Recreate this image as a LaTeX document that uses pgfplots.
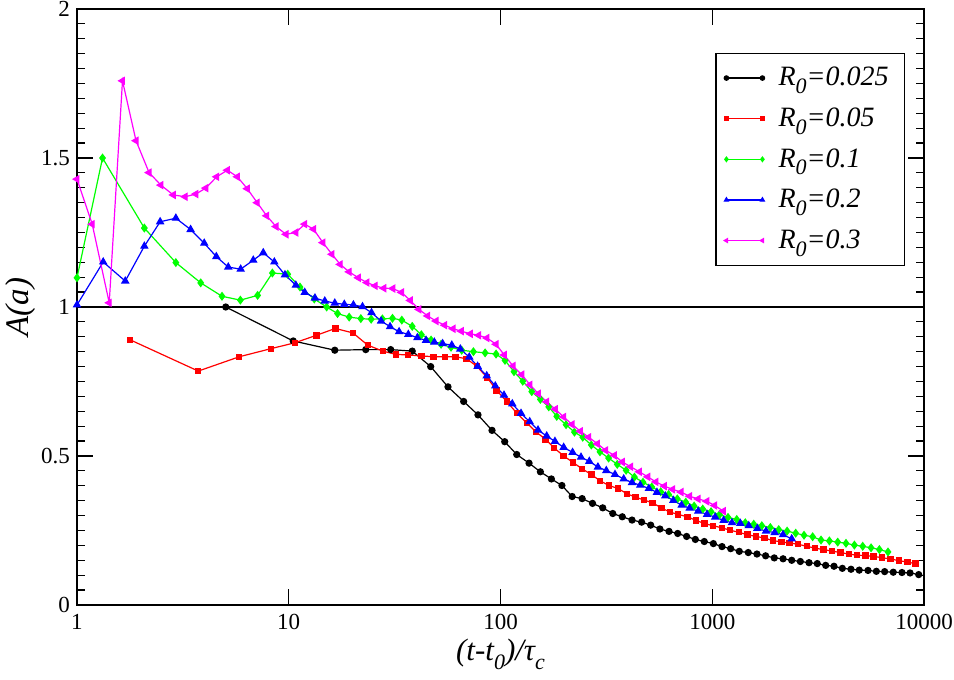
\documentclass[border=0pt]{standalone}
\usepackage{pgfplots}
\pgfplotsset{compat=1.18}
\usepackage{fontspec}
\setmainfont{Liberation Serif}
\definecolor{gred}{RGB}{255,0,0}
\definecolor{ggreen}{RGB}{0,255,0}
\definecolor{gblue}{RGB}{0,0,255}
\definecolor{gmag}{RGB}{255,0,255}
\newcommand\lsub[1]{\raisebox{-0.6ex}{\fontsize{11}{11}\selectfont #1}}
\begin{document}
\begin{tikzpicture}
\begin{axis}[
  name=ax,
  scale only axis,
  width=423.5pt, height=298pt,
  xmode=log,
  xmin=1, xmax=10000, ymin=0, ymax=2,
  log basis x=10,
  xtick={1,10,100,1000,10000},
  xticklabels={1,10,100,1000,10000},
  ytick={0,0.5,1,1.5,2},
  yticklabels={0,0.5,1,1.5,2},
  minor y tick num=9,
  tick align=inside,
  major tick length=8pt,
  minor tick length=4pt,
  every tick/.style={black, line width=0.6pt},
  axis line style={line width=0.8pt},
  /pgf/number format/assume math mode=true,
  tick label style={font=\fontsize{11.5}{13}\selectfont},
  xticklabel style={yshift=-1pt},
  xlabel={\textit{(t-t\lsub{0})/τ\lsub{c}}},
  ylabel={\textit{A(a)}},
  xlabel style={font=\fontsize{15.5}{17}\selectfont, yshift=2pt},
  ylabel style={font=\fontsize{16.5}{18}\selectfont, yshift=-4pt},
  legend cell align=left,
  legend style={at={(0.978,0.927)}, anchor=north east, draw=black, line width=0.75pt,
    font=\fontsize{14}{16}\selectfont, row sep=5.5pt, inner xsep=4pt, inner ysep=5pt,
    nodes={inner xsep=4pt}},
  legend image code/.code={\draw[mark repeat=2,mark phase=1,#1,mark size=1.1pt] plot coordinates {(0pt,0pt) (9pt,0pt) (18pt,0pt)};},
  every axis plot/.append style={line width=0.6pt},
]
\addplot[black, line width=0.75pt, forget plot] coordinates {(1,1) (10000,1)};

\addplot[black, mark=*, mark size=1.5pt] coordinates {
(5.04,1.0) (10.5,0.886) (16.5,0.855) (23.1,0.857) (30.3,0.857) (38.3,0.852) (46.8,0.80) (56.5,0.732) (67,0.683) (78.3,0.638) (91.2,0.586) (104.7,0.548) (119.3,0.505) (136.4,0.476) (154.3,0.447) (173.9,0.423) (195,0.401) (218,0.364) (243,0.357) (272,0.341) (304,0.326) (339,0.307) (376,0.296) (418,0.285) (464,0.278) (512,0.268) (566,0.255) (625,0.247) (687,0.240) (757,0.230) (832,0.220) (917,0.213) (1012,0.206) (1112,0.196) (1222,0.189) (1342,0.180) (1480,0.176) (1626,0.171) (1787,0.165) (1963,0.158) (2160,0.155) (2373,0.150) (2606,0.146) (2864,0.142) (3133,0.139) (3433,0.133) (3758,0.130) (4115,0.123) (4521,0.120) (4946,0.117) (5440,0.116) (5957,0.113) (6520,0.112) (7160,0.110) (7870,0.109) (8590,0.1075) (9440,0.102)
};
\addlegendentry{\hspace{3pt}\textit{R\lsub{0}=0.025}}

\addplot[gred, mark=square*, mark size=1.3pt] coordinates {
(1.78,0.890) (3.74,0.785) (5.84,0.833) (8.22,0.860) (10.7,0.880) (13.5,0.905) (16.6,0.928) (20.1,0.913) (23.6,0.872) (27.8,0.852) (32.1,0.841) (36.5,0.839) (42.3,0.836) (48.2,0.833) (54.7,0.833) (61.4,0.833) (69.2,0.826) (77.4,0.801) (86.3,0.764) (95.9,0.720) (107,0.683) (119.3,0.644) (133,0.611) (147.6,0.580) (163.4,0.556) (179.4,0.527) (198.8,0.500) (220.6,0.478) (242.6,0.457) (268.5,0.438) (295,0.417) (325,0.401) (359,0.391) (396,0.373) (435,0.362) (476,0.352) (523,0.343) (577,0.325) (631,0.312) (689,0.304) (763,0.296) (838,0.284) (921,0.273) (1009,0.266) (1109,0.259) (1213,0.251) (1334,0.244) (1466,0.236) (1607,0.230) (1763,0.225) (1932,0.216) (2121,0.212) (2313,0.208) (2535,0.204) (2795,0.197) (3048,0.191) (3347,0.186) (3667,0.181) (4027,0.176) (4410,0.171) (4826,0.167) (5288,0.166) (5786,0.163) (6336,0.159) (6960,0.154) (7621,0.149) (8344,0.144) (9100,0.139)
};
\addlegendentry{\hspace{3pt}\textit{R\lsub{0}=0.05}}

\addplot[ggreen, mark=diamond*, mark size=1.8pt] coordinates {
(1,1.098) (1.32,1.500) (2.08,1.265) (2.93,1.149) (3.84,1.081) (4.84,1.036) (5.91,1.023) (7.13,1.039) (8.37,1.114) (9.89,1.110) (11.3,1.067) (13.2,1.027) (15.1,1.0) (17.0,0.978) (19.3,0.966) (21.9,0.961) (24.5,0.959) (27.7,0.960) (30.9,0.962) (34.2,0.956) (38.3,0.935) (42.3,0.907) (47,0.889) (52.4,0.875) (58.4,0.865) (65.6,0.855) (74.5,0.850) (84.6,0.846) (95.3,0.842) (105,0.821) (115.8,0.783) (127.4,0.751) (140.5,0.716) (154.3,0.690) (169,0.665) (184.4,0.633) (204,0.605) (223.5,0.580) (244.6,0.563) (268.5,0.537) (295,0.514) (324,0.493) (356,0.472) (392,0.452) (429,0.429) (471,0.412) (518,0.396) (571,0.380) (622,0.371) (684,0.356) (750,0.345) (821,0.332) (902,0.322) (987,0.313) (1081,0.303) (1187,0.294) (1305,0.287) (1432,0.276) (1570,0.271) (1714,0.266) (1881,0.260) (2060,0.253) (2256,0.248) (2478,0.241) (2713,0.234) (2980,0.229) (3264,0.218) (3574,0.215) (3913,0.211) (4282,0.207) (4691,0.201) (5136,0.197) (5623,0.192) (6156,0.186) (6762,0.178)
};
\addlegendentry{\hspace{3pt}\textit{R\lsub{0}=0.1}}

\addplot[gblue, mark=triangle*, mark size=1.9pt] coordinates {
(1,1.007) (1.33,1.151) (1.69,1.087) (2.08,1.204) (2.47,1.286) (2.93,1.298) (3.44,1.260) (3.99,1.214) (4.55,1.169) (5.18,1.134) (5.93,1.127) (6.80,1.157) (7.58,1.182) (8.55,1.151) (9.60,1.108) (10.8,1.073) (11.9,1.049) (13.3,1.030) (14.8,1.020) (16.5,1.013) (18.3,1.009) (20.2,1.007) (22.3,1.001) (24.6,0.981) (27.3,0.953) (30.1,0.934) (33.2,0.917) (36.7,0.908) (40.5,0.897) (44.5,0.888) (48.7,0.882) (53.3,0.877) (58.9,0.872) (64.6,0.859) (71.2,0.832) (78,0.801) (86.1,0.769) (94.5,0.735) (103.9,0.704) (113.7,0.675) (125,0.643) (137.4,0.615) (150.4,0.587) (165.3,0.567) (180.8,0.549) (198.8,0.529) (219,0.512) (240,0.496) (262.6,0.482) (288.5,0.463) (316,0.451) (347.4,0.438) (381.9,0.423) (418,0.411) (457,0.402) (502,0.391) (548,0.378) (600,0.366) (655,0.351) (717,0.335) (782,0.325) (859,0.315) (945,0.304) (1033,0.295) (1132,0.284) (1239,0.276) (1357,0.274) (1487,0.266) (1633,0.257) (1795,0.248) (1973,0.243) (2160,0.236) (2373,0.222)
};
\addlegendentry{\hspace{3pt}\textit{R\lsub{0}=0.2}}

\addplot[gmag, mark=triangle*, mark size=1.9pt, mark options={rotate=90}] coordinates {
(1,1.429) (1.18,1.278) (1.42,1.014) (1.64,1.759) (1.90,1.558) (2.19,1.451) (2.49,1.409) (2.85,1.376) (3.24,1.370) (3.64,1.379) (4.06,1.399) (4.57,1.437) (5.13,1.459) (5.72,1.437) (6.37,1.397) (7.10,1.350) (7.87,1.306) (8.71,1.270) (9.71,1.244) (10.8,1.250) (11.9,1.278) (13.1,1.261) (14.5,1.216) (16.0,1.177) (17.5,1.143) (19.3,1.118) (21.3,1.098) (23.4,1.082) (25.6,1.071) (28.1,1.063) (31.0,1.062) (34.1,1.049) (37.5,1.022) (41.2,0.992) (45.3,0.970) (49.6,0.953) (54.5,0.939) (59.7,0.927) (65.3,0.919) (72.0,0.910) (78.9,0.905) (86.3,0.896) (95.3,0.875) (104.2,0.839) (114.6,0.802) (126,0.773) (137.8,0.739) (151,0.709) (165.3,0.682) (181.5,0.657) (198.8,0.631) (217.8,0.606) (238.4,0.583) (261,0.563) (287,0.541) (314,0.519) (345,0.502) (376,0.480) (412,0.464) (453,0.447) (496,0.430) (542,0.413) (594,0.399) (650,0.388) (712,0.379) (782,0.365) (857,0.356) (942,0.348) (1027,0.334) (1128,0.315)
};
\addlegendentry{\hspace{3pt}\textit{R\lsub{0}=0.3}}
\end{axis}
\pgfresetboundingbox
\path ([xshift=-38.5pt,yshift=-37.5pt]ax.south west) rectangle ([xshift=15pt,yshift=4.5pt]ax.north east);
\end{tikzpicture}
\end{document}
